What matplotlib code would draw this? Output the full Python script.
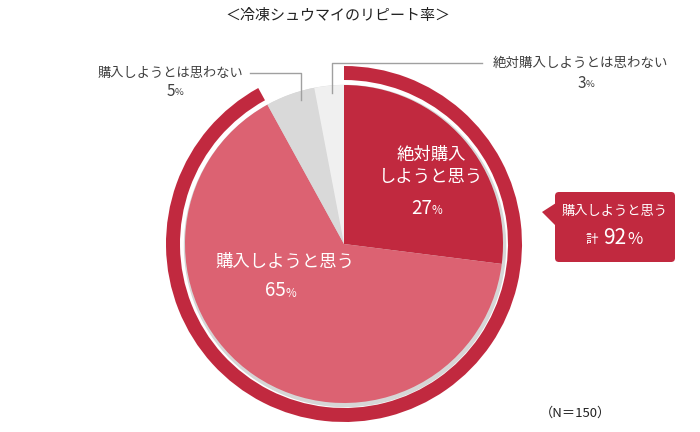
import matplotlib
matplotlib.use("Agg")
import matplotlib.pyplot as plt
from matplotlib.patches import Wedge, Circle, FancyBboxPatch, Polygon

plt.rcParams['font.family'] = ['Noto Sans CJK JP', 'DejaVu Sans']

title = "＜冷凍シュウマイのリピート率＞"
labels = ["絶対購入\nしようと思う", "購入しようと思う", "購入しようとは思わない", "絶対購入しようとは思わない"]
values = [27, 65, 5, 3]
colors = ["#c1293f", "#dc6272", "#d9d9d9", "#f0f0f0"]
ring_label = "購入しようと思う"
ring_total = values[0] + values[1]
note = "（N＝150）"

TXT = "#404040"
RED = "#c1293f"

fig = plt.figure(figsize=(7, 4.32), dpi=100)
ax = fig.add_axes([0, 0, 1, 1])

cx, cy, r = 344, 244, 159

# soft shadow behind the pie
ax.add_patch(Circle((cx + 1, cy + 2), r + 1.5, color="#d6d6d6", zorder=0))

ax.pie(values, colors=colors, center=(cx, cy), radius=r, startangle=-90,
       counterclock=True, wedgeprops=dict(linewidth=0))

# outer ring for "buy" total (y axis is inverted, so ccw in data = cw on screen)
ax.add_patch(Wedge((cx, cy), 178, -90, -90 + 360 * ring_total / sum(values),
                   width=14, color=RED, linewidth=0, zorder=3))

ax.set_xlim(0, 700)
ax.set_ylim(432, 0)
ax.set_aspect("equal")
ax.axis("off")


def pct(x, y, v, size, color, small=0.62):
    ax.text(x + 4, y, str(v), ha="right", va="center", fontsize=size, color=color, zorder=5)
    ax.text(x + 4, y + size * 0.18, "%", ha="left", va="center", fontsize=size * small, color=color, zorder=5)


ax.text(338, 16, title, ha="center", va="center", fontsize=10.8, color="#222222")

# inside labels
ax.text(431, 166, labels[0], ha="center", va="center", fontsize=12.5, color="white",
        linespacing=1.3, zorder=5)
pct(428, 208, values[0], 13.5, "white")
ax.text(285, 262, labels[1], ha="center", va="center", fontsize=12.5, color="white", zorder=5)
pct(282, 291, values[1], 13.5, "white")

# outside labels with leader lines
ax.text(243, 73, labels[2], ha="right", va="center", fontsize=9.5, color=TXT)
pct(171, 91, values[2], 11, TXT)
ax.plot([250, 301, 301], [73, 73, 100], color="#a0a0a0", lw=1, zorder=4)

ax.text(493, 63, labels[3], ha="left", va="center", fontsize=9.7, color=TXT)
pct(582, 83, values[3], 11, TXT)
ax.plot([482, 332, 332], [63, 63, 93], color="#a0a0a0", lw=1, zorder=4)

# callout box
ax.add_patch(FancyBboxPatch((555, 192), 120, 70, boxstyle="round,pad=0,rounding_size=4",
                            facecolor=RED, edgecolor="none", zorder=4))
ax.add_patch(Polygon([[542, 212], [556, 203], [556, 226]], closed=True,
                     facecolor=RED, edgecolor="none", zorder=4))
ax.text(615, 211, ring_label, ha="center", va="center", fontsize=9.5, color="white", zorder=5)
ax.text(592, 239, "計", ha="center", va="center", fontsize=9, color="white", zorder=5)
ax.text(626, 238, f"{ring_total}", ha="right", va="center", fontsize=15, color="white", zorder=5)
ax.text(627, 240, "%", ha="left", va="center", fontsize=12, color="white", zorder=5)

ax.text(575, 413, note, ha="center", va="center", fontsize=9.5, color="#222222")

fig.savefig("out.png", dpi=100)
